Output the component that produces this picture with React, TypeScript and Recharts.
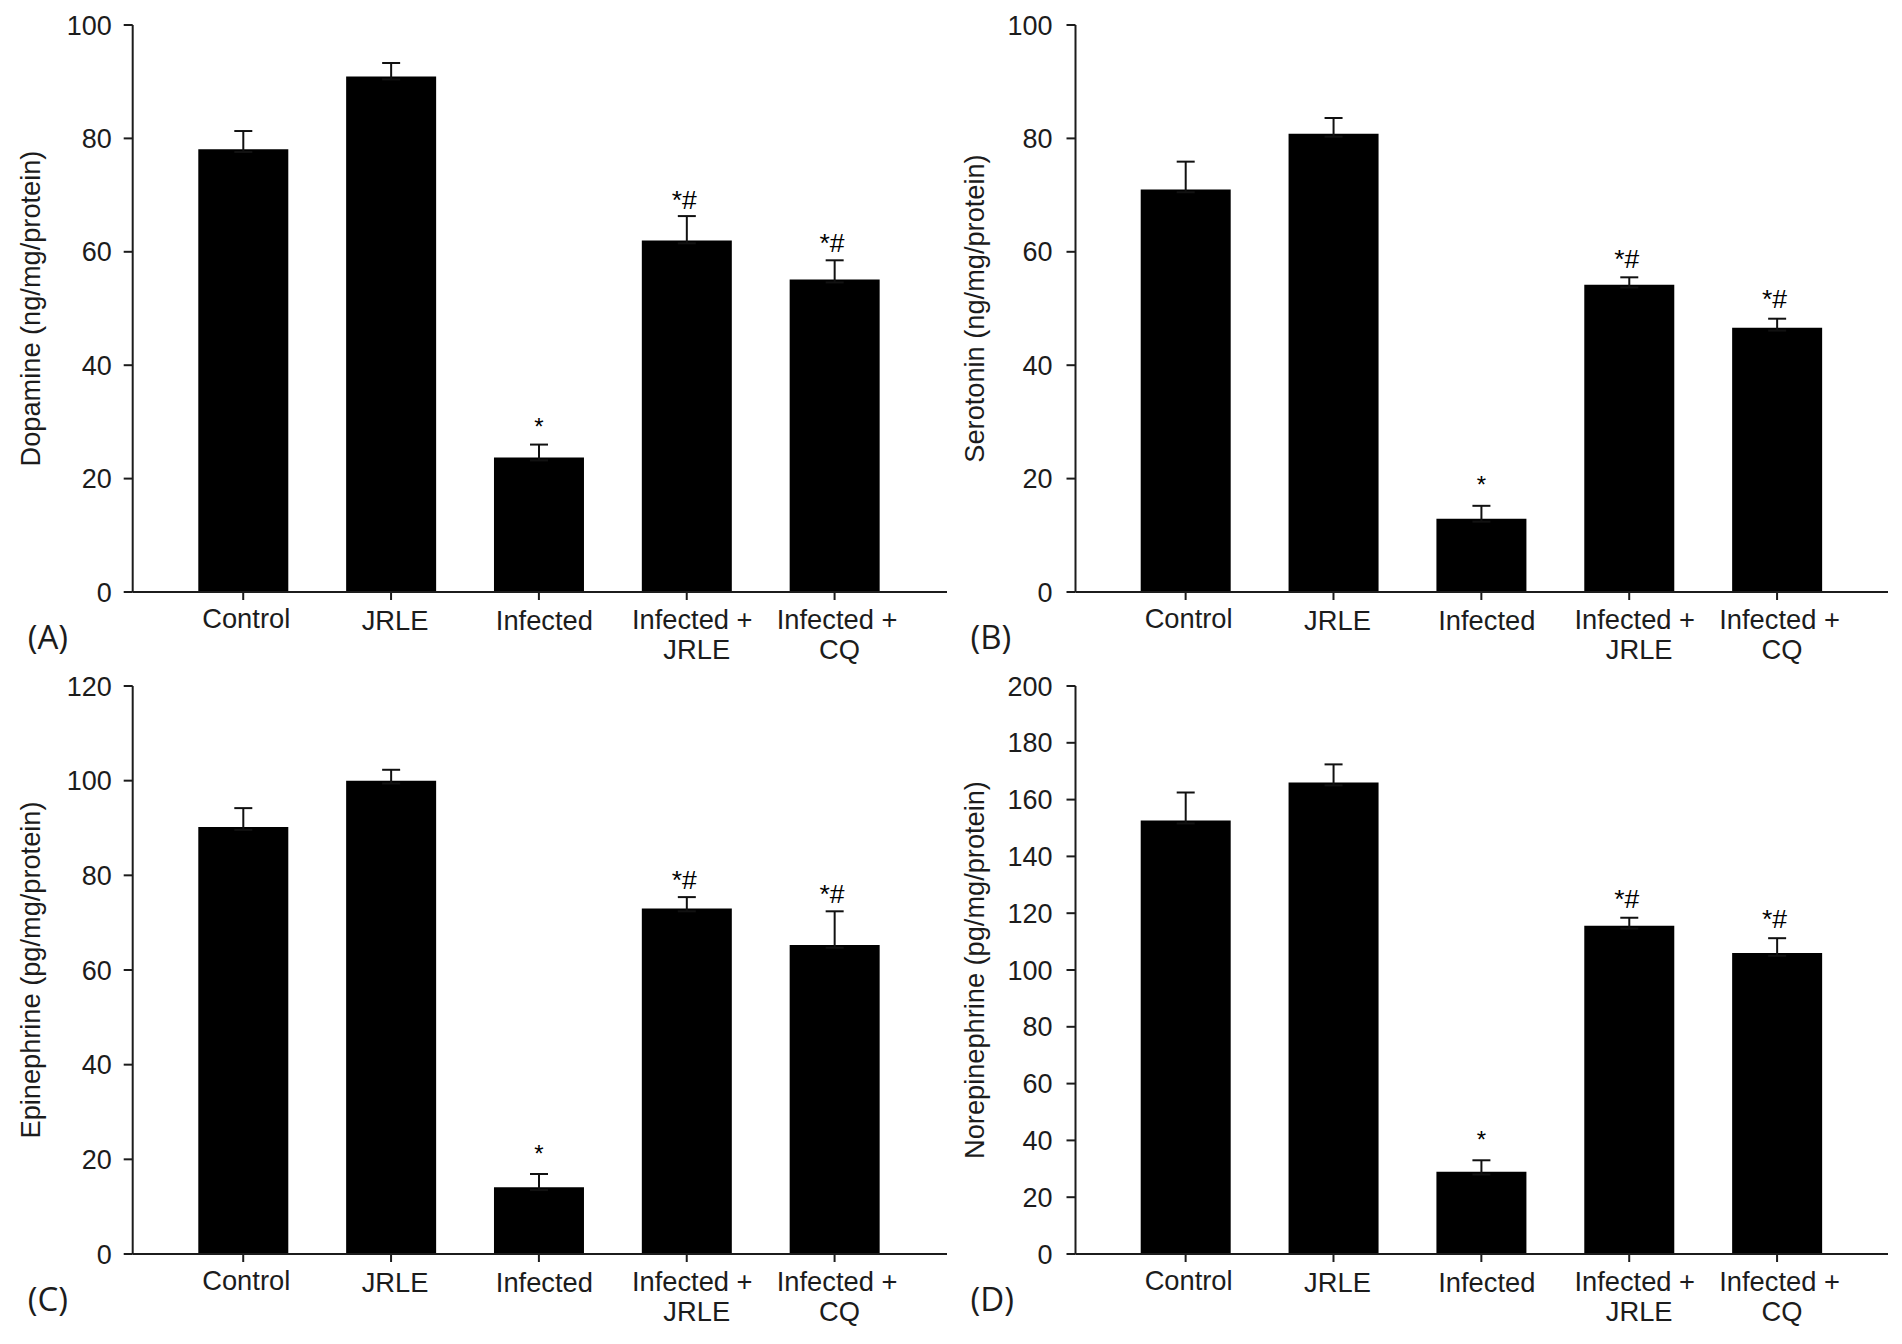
import React from "react";
import { BarChart, Bar, XAxis, YAxis, ErrorBar, ReferenceDot } from "recharts";

const categories = ["Control", "JRLE", "Infected", "Infected + JRLE", "Infected + CQ"];

const dopamine = [78.1, 90.9, 23.7, 62, 55.1];
const dopamineTop = [81.3, 93.3, 26, 66.3, 58.5];
const dopamineMarks = [29.2, 69.2, 61.7];

const serotonin = [71, 80.8, 12.9, 54.2, 46.6];
const serotoninTop = [75.9, 83.6, 15.2, 55.5, 48.2];
const serotoninMarks = [18.9, 58.8, 51.7];

const epinephrine = [90.2, 100, 14.1, 73, 65.3];
const epinephrineTop = [94.2, 102.3, 16.9, 75.4, 72.4];
const epinephrineMarks = [21.2, 79.2, 76.2];

const norepinephrine = [152.6, 166, 29, 115.6, 106];
const norepinephrineTop = [162.5, 172.4, 33, 118.4, 111.2];
const norepinephrineMarks = [40.5, 125, 118];

const ticks100 = [0, 20, 40, 60, 80, 100];
const ticks120 = [0, 20, 40, 60, 80, 100, 120];
const ticks200 = [0, 20, 40, 60, 80, 100, 120, 140, 160, 180, 200];

const markLabels = ["*", "*#", "*#"];
const markCategories = [categories[2], categories[3], categories[4]];

const FONT = "'Liberation Sans', Arial, sans-serif";
const INK = "#1c1c1c";
const TICK_NUDGE = [
  [3, 36],
  [4, 38],
  [5.5, 38],
  [5.5, 37],
  [2.5, 37],
];
const SECOND_LINE_NUDGE = [0, 0, 0, 10, 5];

function CategoryTick(props: any) {
  const { x, payload, index } = props;
  const axisY = props.axisY;
  const [dx, dy] = TICK_NUDGE[index];
  const parts = String(payload.value).split(" + ");
  const first = parts.length > 1 ? parts[0] + " +" : parts[0];
  return (
    <g>
      <text x={x + dx} y={axisY + dy} textAnchor="middle" fontFamily={FONT} fontSize={27.3} fill={INK}>
        {first}
      </text>
      {parts.length > 1 ? (
        <text x={x + SECOND_LINE_NUDGE[index]} y={axisY + 67} textAnchor="middle" fontFamily={FONT} fontSize={27.3} fill={INK}>
          {parts[1]}
        </text>
      ) : null}
    </g>
  );
}

function Panel(p: {
  left: number;
  top: number;
  axisX: number;
  plotTop: number;
  axisY: number;
  plotRight: number;
  padL: number;
  padR: number;
  tickGap: number;
  values: number[];
  tops: number[];
  marks: number[];
  ticks: number[];
  yLabel: string;
  letter: string;
  labelX: number;
}) {
  const max = p.ticks[p.ticks.length - 1];
  const data = categories.map((c, i) => ({
    name: c,
    value: p.values[i],
    err: [max * 0.005, +(p.tops[i] - p.values[i]).toFixed(2)],
  }));
  const W = 951;
  const H = 672;
  return (
    <div style={{ position: "absolute", left: p.left, top: p.top, width: W, height: H }}>
      <BarChart
        width={W}
        height={H}
        data={data}
        margin={{ left: 0, top: p.plotTop, right: W - p.plotRight, bottom: 0 }}
        barSize={90}
      >
        <XAxis
          dataKey="name"
          interval={0}
          height={H - p.axisY}
          padding={{ left: p.padL, right: p.padR }}
          axisLine={{ stroke: INK, strokeWidth: 2 }}
          tickLine={{ stroke: INK, strokeWidth: 2 }}
          tickSize={8}
          tick={<CategoryTick axisY={p.axisY} />}
        />
        <YAxis
          type="number"
          width={p.axisX}
          domain={[0, max]}
          ticks={p.ticks}
          interval={0}
          axisLine={{ stroke: INK, strokeWidth: 2 }}
          tickLine={{ stroke: INK, strokeWidth: 2 }}
          tickSize={9}
          tickMargin={p.tickGap}
          tick={{ fontFamily: FONT, fontSize: 27, fill: INK }}
          label={{
            value: p.yLabel,
            angle: -90,
            position: "center",
            dx: p.labelX - p.axisX / 2,
            style: { fontFamily: FONT, fontSize: 27.2, fill: INK, textAnchor: "middle" },
          }}
        />
        <Bar dataKey="value" fill="#000" isAnimationActive={false}>
          <ErrorBar dataKey="err" direction="y" width={9} stroke="#111" strokeWidth={2} isAnimationActive={false} />
        </Bar>
        {p.marks.map((m, i) => (
          <ReferenceDot
            key={i}
            x={markCategories[i]}
            y={m}
            r={0}
            stroke="none"
            fill="none"
            label={{
              value: markLabels[i],
              position: "center",
              dx: markLabels[i] === "*" ? 0 : -2.5,
              style: { fontFamily: FONT, fontSize: markLabels[i] === "*" ? 24 : 26.5, fill: "#000" },
            }}
          />
        ))}
      </BarChart>
      <div
        style={{
          position: "absolute",
          left: p.axisX - 105,
          top: p.axisY + 25,
          fontFamily: "'Open Sans', sans-serif",
          fontSize: 33,
          lineHeight: "40px",
          color: INK,
        }}
      >
        {p.letter}
      </div>
    </div>
  );
}

export default function App() {
  return (
    <div style={{ position: "absolute", left: 0, top: 0, width: 1902, height: 1344, background: "#fff", overflow: "hidden" }}>
      <Panel left={0} top={0} axisX={132.7} plotTop={25} axisY={592} plotRight={947} padL={36.6} padR={38.5} tickGap={12} values={dopamine} tops={dopamineTop} marks={dopamineMarks} ticks={ticks100} yLabel="Dopamine (ng/mg/protein)" letter="(A)" labelX={30.6} />
      <Panel left={951} top={0} axisX={124.5} plotTop={25} axisY={592} plotRight={937} padL={36.2} padR={37} tickGap={14} values={serotonin} tops={serotoninTop} marks={serotoninMarks} ticks={ticks100} yLabel="Serotonin (ng/mg/protein)" letter="(B)" labelX={23} />
      <Panel left={0} top={672} axisX={132.7} plotTop={14} axisY={582} plotRight={947} padL={36.6} padR={38.5} tickGap={12} values={epinephrine} tops={epinephrineTop} marks={epinephrineMarks} ticks={ticks120} yLabel="Epinephrine (pg/mg/protein)" letter="(C)" labelX={30.6} />
      <Panel left={951} top={672} axisX={124.5} plotTop={14} axisY={582} plotRight={937} padL={36.2} padR={37} tickGap={14} values={norepinephrine} tops={norepinephrineTop} marks={norepinephrineMarks} ticks={ticks200} yLabel="Norepinephrine (pg/mg/protein)" letter="(D)" labelX={23} />
    </div>
  );
}
